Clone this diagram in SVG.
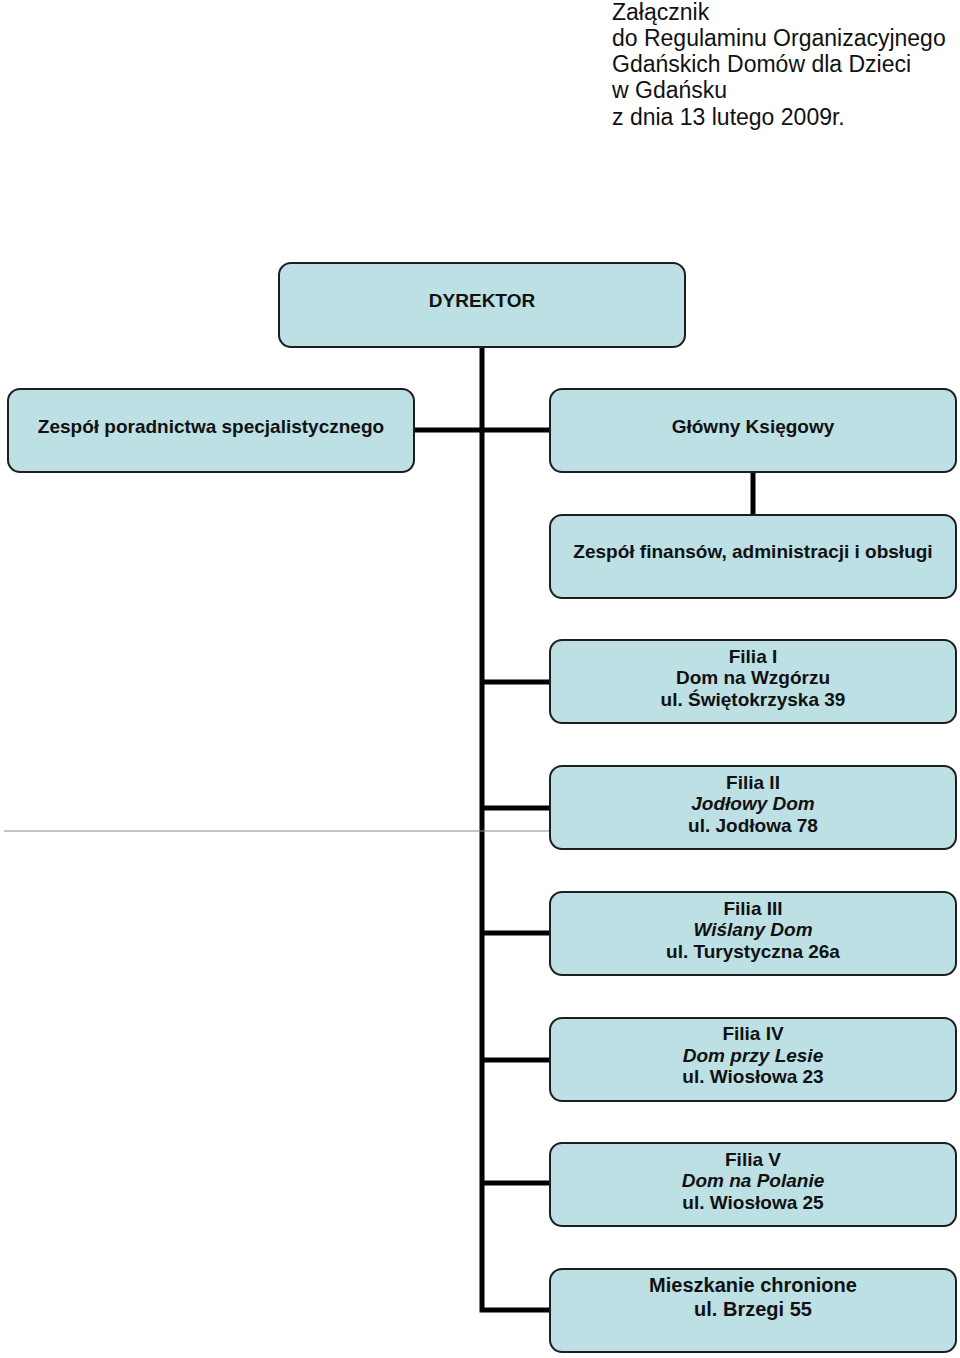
<svg xmlns="http://www.w3.org/2000/svg" width="960" height="1358" viewBox="0 0 960 1358">
<style>
.box{fill:#bce0e3;stroke:#1e1e1e;stroke-width:2}
.t{font-family:"Liberation Sans",Arial,sans-serif;font-weight:bold;font-size:19px;fill:#111;text-anchor:middle}
.i{font-style:italic}
.h{font-family:"Liberation Sans",Arial,sans-serif;font-size:23px;fill:#111}
.c{stroke:#000;stroke-width:5;fill:none}
</style>
<rect width="960" height="1358" fill="#fff"/>
<g id="header" class="h">
<text x="612" y="20">Załącznik</text>
<text x="612" y="46">do Regulaminu Organizacyjnego</text>
<text x="612" y="72">Gdańskich Domów dla Dzieci</text>
<text x="612" y="98">w Gdańsku</text>
<text x="612" y="125">z dnia 13 lutego 2009r.</text>
</g>
<g id="connectors">
<path class="c" d="M482 347 V1310 H550"/>
<path class="c" d="M414 430 H550"/>
<path class="c" d="M753 472 V515"/>
<path class="c" d="M482 682 H550"/>
<path class="c" d="M482 808 H550"/>
<path class="c" d="M482 933 H550"/>
<path class="c" d="M482 1060 H550"/>
<path class="c" d="M482 1183 H550"/>
<path d="M4 831 H550" stroke="#888" stroke-width="1"/>
</g>
<g id="dyrektor"><rect class="box" x="279" y="263" width="406" height="84" rx="12"/><text class="t" x="482" y="307">DYREKTOR</text></g>
<g id="zespol-poradnictwa"><rect class="box" x="8" y="389" width="406" height="83" rx="12"/><text class="t" x="211" y="433">Zespół poradnictwa specjalistycznego</text></g>
<g id="glowny-ksiegowy"><rect class="box" x="550" y="389" width="406" height="83" rx="12"/><text class="t" x="753" y="433">Główny Księgowy</text></g>
<g id="zespol-finansow"><rect class="box" x="550" y="515" width="406" height="83" rx="12"/><text class="t" x="753" y="558">Zespół finansów, administracji i obsługi</text></g>
<g id="filia-1"><rect class="box" x="550" y="640" width="406" height="83" rx="12"/>
<text class="t" x="753" y="663">Filia I</text><text class="t" x="753" y="684">Dom na Wzgórzu</text><text class="t" x="753" y="706">ul. Świętokrzyska 39</text></g>
<g id="filia-2"><rect class="box" x="550" y="766" width="406" height="83" rx="12"/>
<text class="t" x="753" y="789">Filia II</text><text class="t i" x="753" y="810">Jodłowy Dom</text><text class="t" x="753" y="832">ul. Jodłowa 78</text></g>
<g id="filia-3"><rect class="box" x="550" y="892" width="406" height="83" rx="12"/>
<text class="t" x="753" y="915">Filia III</text><text class="t i" x="753" y="936">Wiślany Dom</text><text class="t" x="753" y="958">ul. Turystyczna 26a</text></g>
<g id="filia-4"><rect class="box" x="550" y="1018" width="406" height="83" rx="12"/>
<text class="t" x="753" y="1040">Filia IV</text><text class="t i" x="753" y="1062">Dom przy Lesie</text><text class="t" x="753" y="1083">ul. Wiosłowa 23</text></g>
<g id="filia-5"><rect class="box" x="550" y="1143" width="406" height="83" rx="12"/>
<text class="t" x="753" y="1166">Filia V</text><text class="t i" x="753" y="1187">Dom na Polanie</text><text class="t" x="753" y="1209">ul. Wiosłowa 25</text></g>
<g id="mieszkanie"><rect class="box" x="550" y="1269" width="406" height="83" rx="12"/>
<text class="t" x="753" y="1292" style="font-size:20px">Mieszkanie chronione</text><text class="t" x="753" y="1316" style="font-size:20px">ul. Brzegi 55</text></g>
</svg>
